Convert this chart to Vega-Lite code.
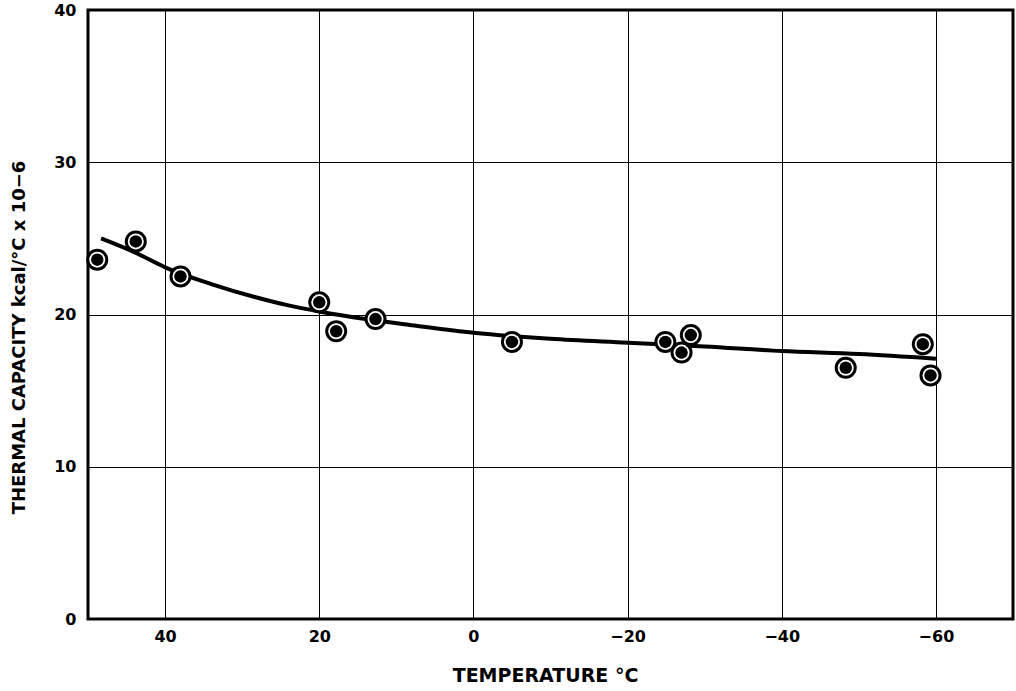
{
  "$schema": "https://vega.github.io/schema/vega-lite/v6.json",
  "autosize": "none",
  "width": 925,
  "height": 609,
  "padding": {"left": 88, "top": 10, "right": 3, "bottom": 72},
  "background": "white",
  "config": {
    "view": {"stroke": "black", "strokeWidth": 3},
    "axis": {
      "grid": true, "gridColor": "black", "gridOpacity": 1, "gridWidth": 1,
      "domain": false, "ticks": false,
      "labelFont": "DejaVu Sans", "labelFontWeight": "bold", "labelFontSize": 16, "labelColor": "black",
      "titleFont": "DejaVu Sans", "titleFontWeight": "bold", "titleFontSize": 18, "titleColor": "black"
    }
  },
  "datasets": {
    "points": [
      {"t": 48.8, "c": 23.6},
      {"t": 43.8, "c": 24.8},
      {"t": 38.0, "c": 22.5},
      {"t": 20.0, "c": 20.8},
      {"t": 17.8, "c": 18.9},
      {"t": 12.7, "c": 19.7},
      {"t": -5.0, "c": 18.2},
      {"t": -24.9, "c": 18.2},
      {"t": -27.0, "c": 17.5},
      {"t": -28.2, "c": 18.65},
      {"t": -48.3, "c": 16.5},
      {"t": -58.3, "c": 18.05},
      {"t": -59.3, "c": 16.0}
    ],
    "curve": [
      {"t": 48.3, "c": 25.0},
      {"t": 44, "c": 24.1},
      {"t": 40, "c": 23.1},
      {"t": 34, "c": 22.0},
      {"t": 28, "c": 21.1},
      {"t": 24, "c": 20.6},
      {"t": 20, "c": 20.2},
      {"t": 14, "c": 19.7},
      {"t": 8, "c": 19.3},
      {"t": 0, "c": 18.8},
      {"t": -10, "c": 18.4},
      {"t": -20, "c": 18.15},
      {"t": -30, "c": 17.9},
      {"t": -40, "c": 17.6},
      {"t": -50, "c": 17.4},
      {"t": -60, "c": 17.1}
    ]
  },
  "encoding": {
    "x": {
      "field": "t", "type": "quantitative",
      "scale": {"domain": [50, -70], "nice": false, "zero": false},
      "axis": {"values": [40, 20, 0, -20, -40, -60], "labelPadding": 9,
               "title": "TEMPERATURE  °C", "titleFontSize": 19, "titleX": 457, "titleY": 56, "titleBaseline": "middle", "titleAlign": "center"}
    },
    "y": {
      "field": "c", "type": "quantitative",
      "scale": {"domain": [0, 40], "nice": false},
      "axis": {"values": [0, 10, 20, 30, 40], "labelPadding": 12,
               "title": "THERMAL CAPACITY kcal/°C x 10−6", "titleX": -69, "titleY": 327, "titleAngle": -90,
               "titleBaseline": "middle", "titleAlign": "center"}
    }
  },
  "layer": [
    {
      "data": {"name": "curve"},
      "mark": {"type": "line", "color": "black", "strokeWidth": 4, "interpolate": "monotone"}
    },
    {
      "data": {"name": "points"},
      "mark": {"type": "point", "shape": "circle", "filled": true, "color": "black", "size": 484, "opacity": 1}
    },
    {
      "data": {"name": "points"},
      "mark": {"type": "point", "shape": "circle", "filled": true, "color": "white", "size": 256, "opacity": 1}
    },
    {
      "data": {"name": "points"},
      "mark": {"type": "point", "shape": "circle", "filled": true, "color": "black", "size": 156, "opacity": 1}
    }
  ]
}
